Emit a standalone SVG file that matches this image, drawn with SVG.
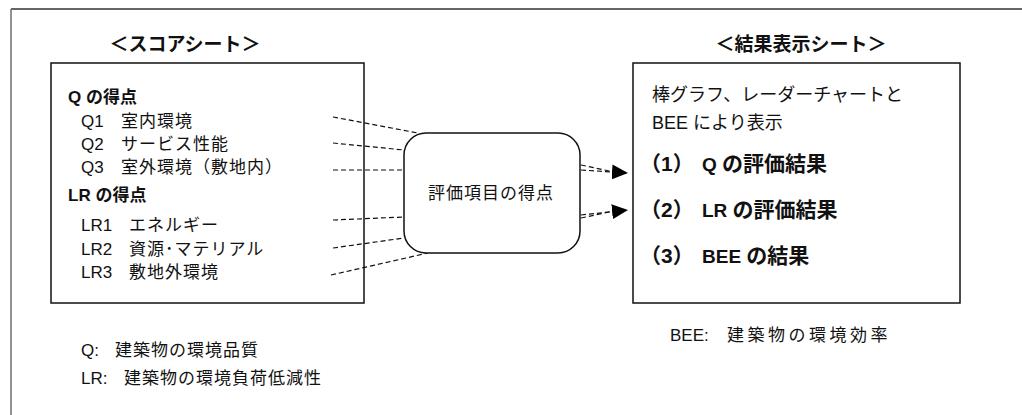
<svg xmlns="http://www.w3.org/2000/svg" width="1022" height="415" viewBox="0 0 1022 415">
<defs>
<style>
text{font-family:"Liberation Sans","Noto Sans CJK JP",sans-serif;fill:#111}
.title{font-size:19px;font-weight:bold;text-anchor:middle}
.head{font-size:17px;font-weight:bold}
.item{font-size:17px}
.j{letter-spacing:1px}
.rt{font-size:18px}
.rb{font-size:21px;font-weight:bold}
.lat{font-size:19px}
.note{font-size:17px}
.box{fill:#fff;stroke:#111;stroke-width:1.5}
.dash{fill:none;stroke:#111;stroke-width:1.2;stroke-dasharray:5 3}
</style>
<marker id="ah" markerWidth="16" markerHeight="15" refX="16" refY="7.5" orient="auto" markerUnits="userSpaceOnUse">
<path d="M0,0 L16,7.5 L0,15 Z" fill="#000"/>
</marker>
</defs>
<rect width="1022" height="415" fill="#fff"/>
<g id="frame">
<line x1="11" y1="9" x2="1022" y2="9" stroke="#333" stroke-width="1.6"/>
<line x1="11" y1="9" x2="11" y2="415" stroke="#777" stroke-width="1.6"/>
</g>
<g id="score-sheet">
<text class="title" x="185" y="51">＜スコアシート＞</text>
<rect class="box" x="51" y="63" width="313" height="240"/>
<text class="head" x="68" y="103">Q の得点</text>
<text class="item" x="81" y="127">Q1<tspan class="j" x="121">室内環境</tspan></text>
<text class="item" x="81" y="150">Q2<tspan class="j" x="121">サービス性能</tspan></text>
<text class="item" x="81" y="173">Q3<tspan class="j" x="121">室外環境（敷地内）</tspan></text>
<text class="head" x="68" y="201">LR の得点</text>
<text class="item" x="81" y="231">LR1<tspan class="j" x="129">エネルギー</tspan></text>
<text class="item" x="81" y="255">LR2<tspan class="j" x="129">資源･マテリアル</tspan></text>
<text class="item" x="81" y="278">LR3<tspan class="j" x="129">敷地外環境</tspan></text>
</g>
<g id="connectors">
<line class="dash" x1="333" y1="117" x2="418" y2="133"/>
<line class="dash" x1="333" y1="143" x2="404" y2="150"/>
<line class="dash" x1="333" y1="170" x2="404" y2="170"/>
<line class="dash" x1="333" y1="220" x2="404" y2="217"/>
<line class="dash" x1="333" y1="248" x2="404" y2="238"/>
<line class="dash" x1="331" y1="275" x2="428" y2="253"/>
<line class="dash" x1="581" y1="165" x2="614" y2="172"/>
<line class="dash" x1="581" y1="170" x2="628" y2="173" marker-end="url(#ah)"/>
<line class="dash" x1="581" y1="218" x2="614" y2="211"/>
<line class="dash" x1="581" y1="215" x2="628" y2="210" marker-end="url(#ah)"/>
</g>
<g id="scores">
<rect class="box" x="404" y="133" width="176" height="120" rx="22" ry="22"/>
<text x="491" y="199" style="font-size:17px;letter-spacing:1px;text-anchor:middle">評価項目の得点</text>
</g>
<g id="result-sheet">
<text class="title" x="801" y="51">＜結果表示シート＞</text>
<rect class="box" x="633" y="63" width="327" height="240"/>
<text class="rt" x="652" y="101">棒グラフ、レーダーチャートと</text>
<text class="rt" x="652" y="129">BEE により表示</text>
<text class="rb" x="640" y="171">（1）<tspan class="lat" x="702">Q </tspan>の評価結果</text>
<text class="rb" x="640" y="217">（2）<tspan class="lat" x="702">LR </tspan>の評価結果</text>
<text class="rb" x="640" y="263">（3）<tspan class="lat" x="702">BEE </tspan>の結果</text>
</g>
<g id="notes">
<text class="note" x="81" y="356">Q:<tspan class="j" x="115">建築物の環境品質</tspan></text>
<text class="note" x="81" y="384">LR:<tspan class="j" x="124">建築物の環境負荷低減性</tspan></text>
<text class="note" x="670" y="341">BEE:<tspan x="727" style="letter-spacing:3.5px">建築物の環境効率</tspan></text>
</g>
</svg>
